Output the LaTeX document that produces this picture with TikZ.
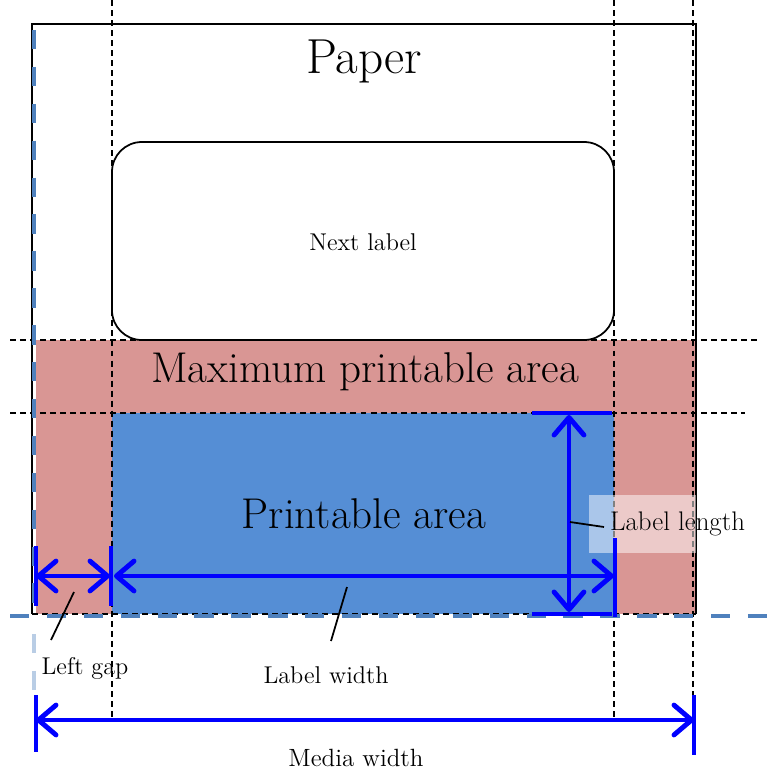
\documentclass[tikz,border=0pt]{standalone}
\usetikzlibrary{arrows.meta}
\definecolor{pinkarea}{HTML}{D99694}
\definecolor{bluearea}{HTML}{558ED5}
\definecolor{edgeblue}{HTML}{4F81BD}

\def\px{0.02cm}

\begin{document}
\begin{tikzpicture}[x=\px,y=-\px,font=\fontsize{13.8}{16}\selectfont]
    \tikzstyle{guide}=[draw=black,line width=0.8pt,dash pattern=on 3.4pt off 2.3pt]
    \tikzstyle{mediaedge}=[draw=edgeblue,line width=2.8pt,dash pattern=on 11pt off 10pt]
    \tikzstyle{dimline}=[draw=blue,line width=2.8pt,{Straight Barb[length=10pt,width=17pt,round]}-{Straight Barb[length=10pt,width=17pt,round]}]
    \tikzstyle{dimbar}=[draw=blue,line width=2.8pt]
    \tikzstyle{leader}=[draw=black,line width=1pt]
    \tikzstyle{bigtext}=[font=\fontsize{24.5}{28}\selectfont]

    \useasboundingbox (0,0) rectangle (770,772);

    % areas
    \fill[pinkarea] (36,340) rectangle (696,614);
    \fill[bluearea] (112,413) rectangle (614,614);
    \draw[line width=1pt,rounded corners=17pt] (112,142) rectangle (614,340);
    \draw[line width=1.1pt] (32,614) -- (32,24) -- (696,24) -- (696,614);
    \draw[guide] (32,614) -- (696,614);

    % guides
    \draw[guide] (112,0) -- (112,720);
    \draw[guide] (614,0) -- (614,720);
    \draw[guide] (693,0) -- (693,725);
    \draw[guide] (10,340) -- (760,340);
    \draw[guide] (10,413) -- (745,413);

    % media edges
    \draw[mediaedge] (34,30) -- (34,616);
    \draw[mediaedge,draw opacity=0.4] (34,634) -- (34,700);
    \draw[mediaedge] (10,616) -- (770,616);

    % label length box
    \fill[white,opacity=0.5] (589,495) rectangle (696,553);

    % dimensions
    \coordinate (gapL) at (36,576);
    \coordinate (gapR) at (110,576);
    \coordinate (widL) at (114,576);
    \coordinate (widR) at (614,576);
    \coordinate (lenT) at (569,415);
    \coordinate (lenB) at (569,612);
    \coordinate (medL) at (36,720);
    \coordinate (medR) at (694,720);

    \draw[dimbar] (36,546) -- (36,606);
    \draw[dimbar] (111,546) -- (111,606);
    \draw[dimbar] (615,538) -- (615,617);
    \draw[dimbar] (532,413) -- (612,413);
    \draw[dimbar] (532,614) -- (612,614);
    \draw[dimbar] (36,695) -- (36,752);
    \draw[dimbar] (694,695) -- (694,755);

    \draw[dimline] (gapL) -- (gapR);
    \draw[dimline] (widL) -- (widR);
    \draw[dimline] (lenT) -- (lenB);
    \draw[dimline] (medL) -- (medR);

    % texts
    \node[font=\fontsize{28}{32}\selectfont] (paper) at (364,61) {Paper};
    \node (next) at (363,242) {Next label};
    \node[bigtext] (maxarea) at (365,372) {Maximum printable area};
    \node[bigtext] (printarea) at (364,514) {Printable area};
    \node[anchor=west,inner sep=1pt,font=\fontsize{15.3}{18}\selectfont] (lenlabel) at (608,524) {Label length};
    \node (gaplabel) at (85,668) {Left gap};
    \node (widlabel) at (326,675) {Label width};
    \node[font=\fontsize{14.2}{16}\selectfont] (medlabel) at (356,758) {Media width};

    % leaders
    \coordinate (gapA) at (74,592);
    \coordinate (gapB) at (51,640);
    \coordinate (widA) at (347,587);
    \coordinate (widB) at (331,641);
    \coordinate (lenA) at (570,522);
    \coordinate (lenC) at (604,527);
    \draw[leader] (gapA) -- (gapB);
    \draw[leader] (widA) -- (widB);
    \draw[leader] (lenA) -- (lenC);
\end{tikzpicture}
\end{document}
